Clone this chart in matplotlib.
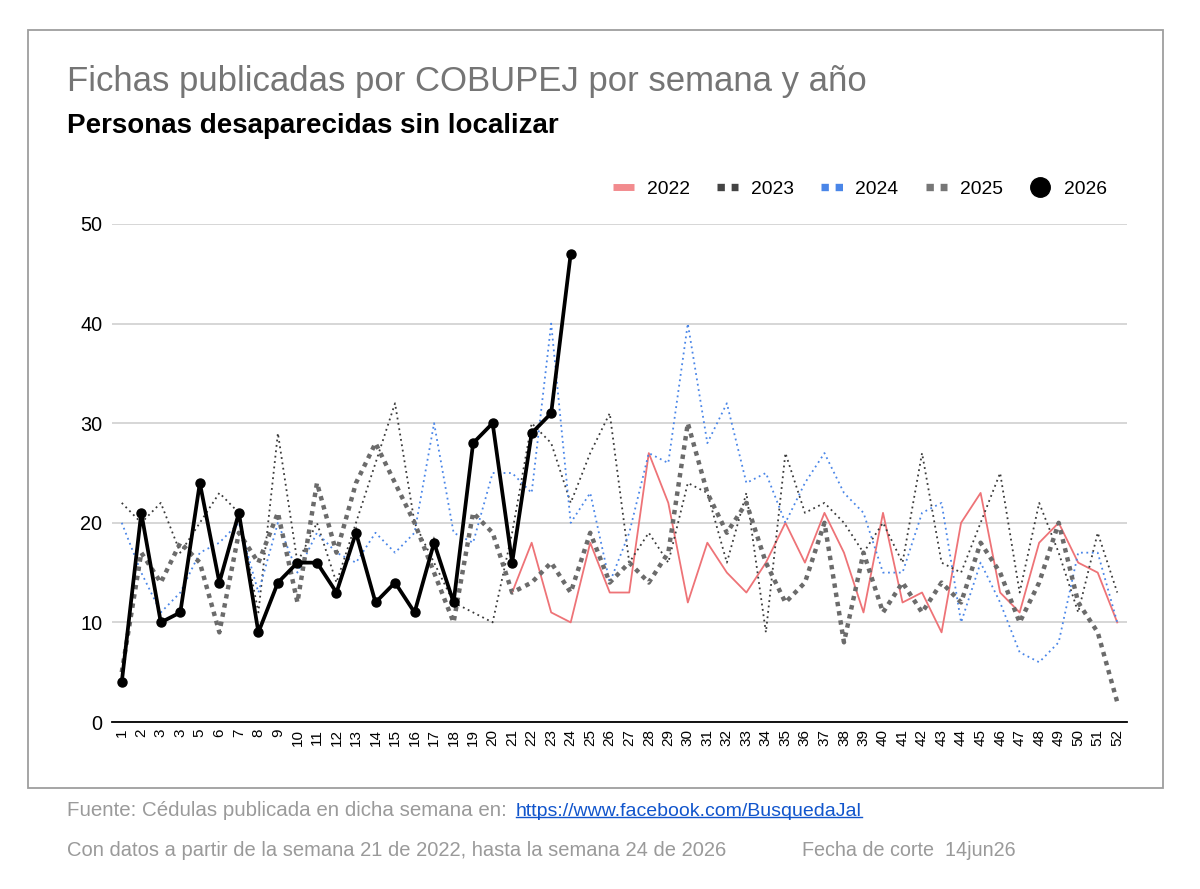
import matplotlib
matplotlib.use('Agg')
import matplotlib.pyplot as plt
from matplotlib.lines import Line2D
from matplotlib.patches import Rectangle
import numpy as np

plt.rcParams['font.family'] = ['Liberation Sans', 'DejaVu Sans']

weeks = list(range(1, 53))
week_labels = ['1', '2', '3', '3'] + [str(w) for w in range(5, 53)]

weeks_2022 = list(range(21, 53))
vals_2022 = [13, 18, 11, 10, 18, 13, 13, 27, 22, 12, 18, 15, 13, 16, 20, 16,
             21, 17, 11, 21, 12, 13, 9, 20, 23, 13, 11, 18, 20, 16, 15, 10]
vals_2023 = [22, 20, 22, 17, 20, 23, 21, 11, 29, 16,
             20, 14, 20, 26, 32, 20, 16, 12, 11, 10,
             19, 30, 28, 22, 27, 31, 16, 19, 16, 24,
             23, 16, 23, 9, 27, 21, 22, 20, 17, 20,
             16, 27, 16, 15, 20, 25, 13, 22, 17, 11,
             19, 13]
vals_2024 = [20, 15, 11, 13, 17, 18, 20, 13, 20, 15,
             19, 17, 16, 19, 17, 19, 30, 19, 18, 25,
             25, 23, 40, 20, 23, 14, 19, 27, 26, 40,
             28, 32, 24, 25, 20, 24, 27, 23, 21, 15,
             15, 21, 22, 10, 16, 12, 7, 6, 8, 17,
             17, 10]
vals_2025 = [5, 17, 14, 18, 16, 9, 19, 16, 21, 12,
             24, 17, 24, 28, 24, 20, 15, 10, 21, 19,
             13, 14, 16, 13, 19, 14, 16, 14, 17, 30,
             23, 19, 22, 16, 12, 14, 20, 8, 17, 11,
             14, 11, 14, 12, 18, 15, 10, 14, 20, 12,
             9, 2]
weeks_2026 = list(range(1, 25))
vals_2026 = [4, 21, 10, 11, 24, 14, 21, 9, 14, 16, 16, 13, 19, 12, 14, 11,
             18, 12, 28, 30, 16, 29, 31, 47]

c22 = '#ee7377'
c23 = '#3a3a3a'
c24 = '#4a86e8'
c25 = '#6b6b6b'
grey_txt = '#9a9a9a'

fig = plt.figure(figsize=(12, 8.89), dpi=100)
fig.add_artist(Rectangle((28 / 1200, 1 - 788 / 889), 1135 / 1200, 758 / 889,
                         transform=fig.transFigure, fill=False,
                         edgecolor='#9e9e9e', linewidth=1.3))

ax = fig.add_axes([112 / 1200, 1 - 722 / 889, 1015 / 1200, 498 / 889])

ax.plot(weeks_2022, vals_2022, color=c22, lw=1.3, zorder=2)
ax.plot(weeks, vals_2023, color=c23, lw=1.3, linestyle=(0, (1, 2)), zorder=3)
ax.plot(weeks, vals_2024, color=c24, lw=1.3, linestyle=(0, (1, 2)), zorder=3)
ax.plot(weeks, vals_2025, color=c25, lw=3.2, linestyle=(0, (1, 1.1)), zorder=4)
ax.plot(weeks_2026, vals_2026, color='black', lw=2.7, marker='o', ms=6.5,
        solid_joinstyle='miter', zorder=5)

ax.set_xlim(0.5, 52.5)
ax.set_ylim(0, 50)
ax.set_yticks([0, 10, 20, 30, 40, 50])
ax.set_xticks(weeks)
ax.set_xticklabels(week_labels, rotation=90)
ax.tick_params(axis='both', length=0)
ax.tick_params(axis='x', labelsize=11, pad=5)
ax.tick_params(axis='y', labelsize=14.3, pad=7)
ax.grid(axis='y', color='#cccccc', lw=1.1)
ax.set_axisbelow(True)
for s in ['top', 'right', 'left']:
    ax.spines[s].set_visible(False)
ax.spines['bottom'].set_linewidth(1.3)
ax.spines['bottom'].set_zorder(6)

sq = (0, (1, 0.92))
handles = [
    Line2D([], [], color='#f28b8e', lw=5, solid_capstyle='butt'),
    Line2D([], [], color='#444444', lw=5.3, linestyle=sq, dash_capstyle='butt'),
    Line2D([], [], color=c24, lw=5.3, linestyle=sq, dash_capstyle='butt'),
    Line2D([], [], color='#777777', lw=5.3, linestyle=sq, dash_capstyle='butt'),
    Line2D([], [], color='black', lw=0, marker='o', ms=14),
]
fig.legend(handles, ['2022', '2023', '2024', '2025', '2026'], ncol=5,
           loc='center right', bbox_to_anchor=(1107 / 1200, 1 - 189 / 889),
           frameon=False, fontsize=13.9, handlelength=1.1, handletextpad=0.67,
           columnspacing=1.4, borderaxespad=0, borderpad=0, numpoints=1)

fig.text(67 / 1200, 1 - 81 / 889, 'Fichas publicadas por COBUPEJ por semana y año',
         fontsize=25, color='#757575', va='center')
fig.text(67 / 1200, 1 - 126 / 889, 'Personas desaparecidas sin localizar',
         fontsize=20, fontweight='bold', color='black', va='center')

fig.text(67 / 1200, 1 - 811 / 889, 'Fuente: Cédulas publicada en dicha semana en:',
         fontsize=14.8, color=grey_txt, va='center')
link = fig.text(516 / 1200, 1 - 811 / 889, 'https://www.facebook.com/BusquedaJal',
                fontsize=14, color='#1155cc', va='center')
fig.text(67 / 1200, 1 - 850 / 889,
         'Con datos a partir de la semana 21 de 2022, hasta la semana 24 de 2026',
         fontsize=14.5, color=grey_txt, va='center')
fig.text(802 / 1200, 1 - 850 / 889, 'Fecha de corte  14jun26',
         fontsize=14.2, color=grey_txt, va='center')

fig.canvas.draw()
bb = link.get_window_extent().transformed(fig.transFigure.inverted())
fig.add_artist(Line2D([bb.x0, bb.x1], [bb.y0 + 0.003, bb.y0 + 0.003],
                      transform=fig.transFigure, color='#1155cc', lw=1))

fig.savefig('out.png', dpi=100)
